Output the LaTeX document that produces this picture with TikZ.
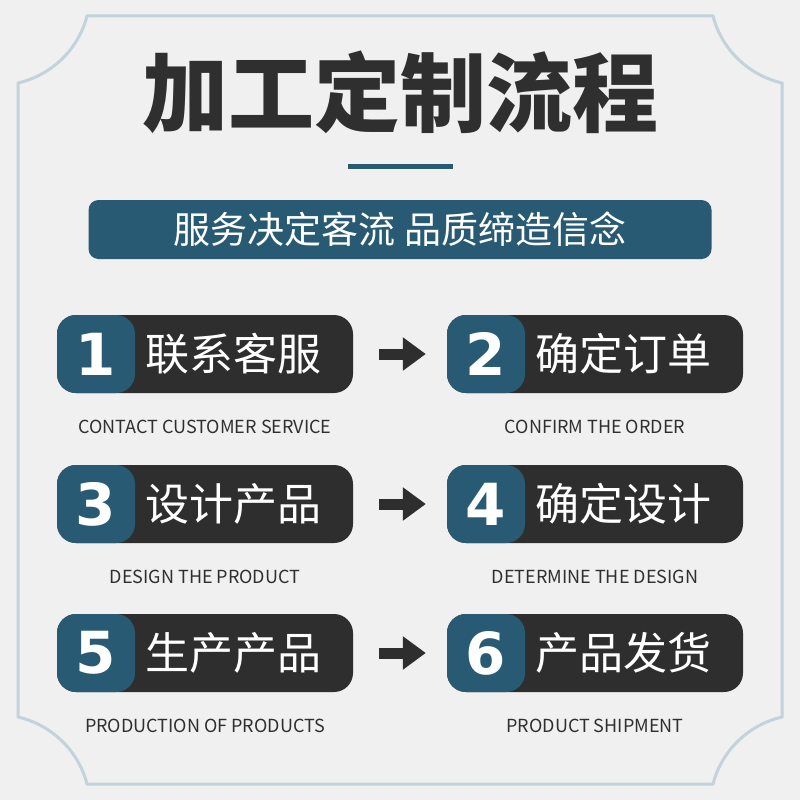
\documentclass[tikz,border=0pt]{standalone}
\usepackage{fontspec}
\setmainfont{Noto Sans CJK SC}
\newfontfamily\numfont{DejaVu Sans}
\usetikzlibrary{positioning,arrows.meta}
\definecolor{bgpaper}{HTML}{F0F0F0}
\definecolor{framecol}{HTML}{C3D3DB}
\definecolor{tealbox}{HTML}{285B73}
\definecolor{darkbox}{HTML}{2E2E2E}
\definecolor{inkgray}{HTML}{2F2F2F}
\tikzset{
  stepbox/.style={fill=darkbox,rounded corners=19pt,minimum width=296pt,minimum height=78pt,inner sep=0pt},
  numbox/.style={fill=tealbox,rounded corners=19pt,minimum width=78pt,minimum height=78pt,inner sep=0pt,text=white,font=\numfont\bfseries\fontsize{58}{58}\selectfont},
  steplabel/.style={text=white,inner sep=0pt,font=\fontsize{44}{44}\selectfont},
  subtitle/.style={text=inkgray,inner sep=0pt,font=\fontsize{18}{18}\selectfont},
  fatarrow/.style={draw=darkbox,line width=11pt,-{Triangle[length=23pt,width=32pt]}},
}
\begin{document}
\begin{tikzpicture}[x=1pt,y=-1pt]
\fill[bgpaper] (0,0) rectangle (800,800);
% frame with cut corners
\draw[framecol,line width=3pt] (18,83) .. controls (51.6,75.2) and (78.4,49.4) .. (87,16) -- (713,16)
  .. controls (721.6,49.4) and (748.4,75.2) .. (782,83) -- (782,717)
  .. controls (748.4,724.8) and (721.6,750.6) .. (713,784) -- (87,784)
  .. controls (78.4,750.6) and (51.6,724.8) .. (18,717) -- cycle;
% heading
\node[text=inkgray,inner sep=0pt,font=\bfseries\fontsize{86}{86}\selectfont] (title) at (400,92) {加工定制流程};
\node[fill=tealbox,minimum width=105pt,minimum height=5pt,inner sep=0pt] (bar) at (400,166) {};
\node[fill=tealbox,rounded corners=10pt,minimum width=623pt,minimum height=59pt,inner sep=0pt,text=white,font=\fontsize{37}{37}\selectfont] (banner) at (400,229.5) {服务决定客流 品质缔造信念};
% steps
\foreach \n/\x/\y/\zh/\en in {1/205/354/联系客服/CONTACT CUSTOMER SERVICE,2/595/354/确定订单/CONFIRM THE ORDER,3/205/504/设计产品/DESIGN THE PRODUCT,4/595/504/确定设计/DETERMINE THE DESIGN,5/205/653/生产产品/PRODUCTION OF PRODUCTS,6/595/653/产品发货/PRODUCT SHIPMENT} {
  \node[stepbox] (step\n) at (\x,\y) {};
  \node[numbox,anchor=west] (num\n) at (step\n.west) {\n};
  \node[steplabel,right=10pt of num\n] (label\n) {\zh};
  \node[subtitle] (sub\n) at (\x,\y+73) {\en};
}
\foreach \a/\b in {1/2,3/4,5/6} { \draw[fatarrow] ([xshift=26pt]step\a.east) -- ([xshift=-21pt]step\b.west); }
\end{tikzpicture}
\end{document}
